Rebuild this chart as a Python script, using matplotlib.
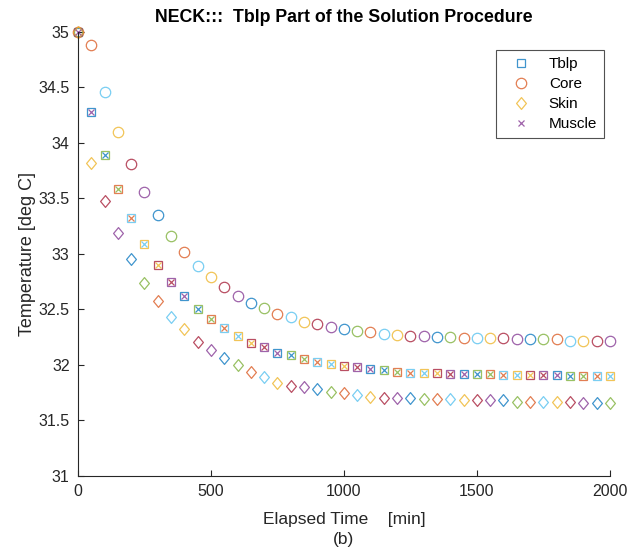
import numpy as np
import matplotlib.pyplot as plt
from matplotlib.path import Path

plt.rcParams['font.family'] = ['Liberation Sans', 'DejaVu Sans']

# elapsed time [min], one sample every 50 min
time = np.arange(0, 2001, 50)

tblp = [35.00, 34.28, 33.89, 33.58, 33.32, 33.09, 32.90, 32.75, 32.62, 32.50,
        32.41, 32.33, 32.26, 32.20, 32.16, 32.11, 32.09, 32.05, 32.03, 32.01,
        31.99, 31.98, 31.96, 31.95, 31.94, 31.93, 31.93, 31.93, 31.92, 31.92,
        31.92, 31.92, 31.91, 31.91, 31.91, 31.91, 31.91, 31.90, 31.90, 31.90,
        31.90]
core = [35.00, 34.88, 34.46, 34.10, 33.81, 33.56, 33.35, 33.16, 33.02, 32.89,
        32.79, 32.70, 32.62, 32.56, 32.51, 32.46, 32.43, 32.39, 32.37, 32.34,
        32.32, 32.31, 32.30, 32.28, 32.27, 32.26, 32.26, 32.25, 32.25, 32.24,
        32.24, 32.24, 32.24, 32.23, 32.23, 32.23, 32.23, 32.22, 32.22, 32.22,
        32.22]
skin = [35.00, 33.82, 33.48, 33.19, 32.95, 32.74, 32.58, 32.43, 32.32, 32.21,
        32.13, 32.06, 32.00, 31.94, 31.89, 31.84, 31.81, 31.80, 31.78, 31.76,
        31.75, 31.73, 31.71, 31.70, 31.70, 31.70, 31.69, 31.69, 31.69, 31.68,
        31.68, 31.68, 31.68, 31.67, 31.67, 31.67, 31.67, 31.67, 31.66, 31.66,
        31.66]
muscle = list(tblp)

labels = ['Tblp', 'Core', 'Skin', 'Muscle']

# matlab style diamond (a bit taller than wide)
diamond = Path([(0, 1), (0.83, 0), (0, -1), (-0.83, 0), (0, 1)],
               [Path.MOVETO, Path.LINETO, Path.LINETO, Path.LINETO, Path.CLOSEPOLY])
markers = ['s', 'o', diamond, 'x']
msizes = [5.5, 7.5, 8.5, 4.5]

# matlab default colour order
colors = [(0.0, 0.447, 0.741), (0.85, 0.325, 0.098), (0.929, 0.694, 0.125),
          (0.494, 0.184, 0.556), (0.466, 0.674, 0.188), (0.301, 0.745, 0.933),
          (0.635, 0.078, 0.184)]

fig = plt.figure(figsize=(6.44, 5.58), dpi=100)
ax = fig.add_axes([0.121, 0.147, 0.826, 0.796])

series = [tblp, core, skin, muscle]
handles = []
for k, t in enumerate(time):
    base = 0 if k == 0 else 4 * (k - 1)
    for j, vals in enumerate(series):
        c = colors[(base + j) % 7]
        h, = ax.plot(t, vals[k], linestyle='none', marker=markers[j],
                     markersize=msizes[j], markerfacecolor='none',
                     markeredgecolor=c, markeredgewidth=0.9, alpha=0.75,
                     clip_on=False)
        if k == 0:
            handles.append(h)

ax.set_xlim(0, 2000)
ax.set_ylim(31, 35)
ax.set_xticks(np.arange(0, 2001, 500))
ax.set_yticks(np.arange(31, 35.01, 0.5))
ax.set_yticklabels(['31', '31.5', '32', '32.5', '33', '33.5', '34', '34.5', '35'])

for s in ['top', 'right']:
    ax.spines[s].set_visible(False)
for s in ['left', 'bottom']:
    ax.spines[s].set_color('#262626')
    ax.spines[s].set_linewidth(0.8)
ax.tick_params(direction='in', length=4, width=0.8, colors='#262626',
               labelsize=11.5, pad=6)

ax.set_title('NECK:::  Tblp Part of the Solution Procedure', fontsize=12.8,
             fontweight='bold', pad=7)
ax.set_ylabel('Temperature [deg C]', fontsize=13, color='#262626', labelpad=2)
ax.set_xlabel('Elapsed Time    [min]\n(b)', fontsize=12.5, color='#262626',
              linespacing=1.4, labelpad=9)

leg = ax.legend(handles, labels, loc='upper right',
                bbox_to_anchor=(0.989, 0.959), fancybox=False,
                edgecolor='#262626', fontsize=11, handlelength=2.4,
                handletextpad=0.6, borderpad=0.45, labelspacing=0.4,
                borderaxespad=0)
leg.get_frame().set_linewidth(0.8)

fig.savefig('out.png', dpi=100)
